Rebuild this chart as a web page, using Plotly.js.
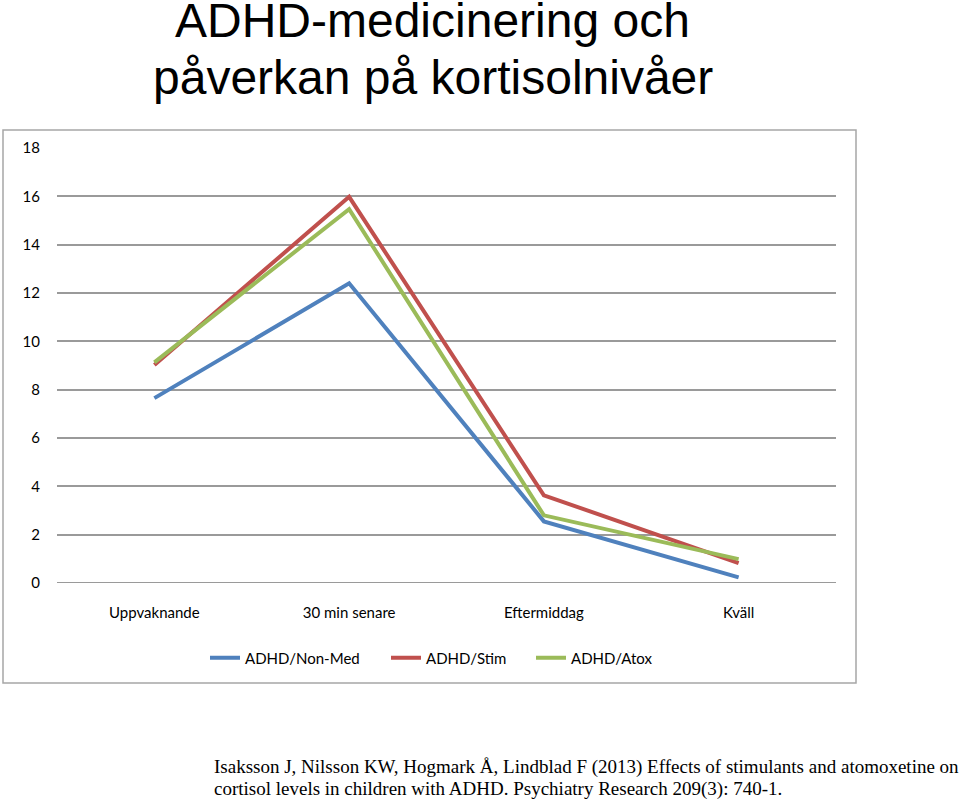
<!DOCTYPE html>
<html>
<head>
<meta charset="utf-8">
<script src="https://cdn.plot.ly/plotly-3.0.1.min.js"></script>
<style>html,body{margin:0;padding:0;background:#fff;}#chart{width:960px;height:800px;}</style>
</head>
<body>
<div id="chart"></div>
<script>
const categories = ["Uppvaknande", "30 min senare", "Eftermiddag", "Kväll"];
const nonMed = [7.65, 12.4, 2.55, 0.23];
const stim = [9.02, 15.98, 3.63, 0.82];
const atox = [9.13, 15.47, 2.8, 0.99];
const seriesNames = ["ADHD/Non-Med", "ADHD/Stim", "ADHD/Atox"];
const yTicks = [0, 2, 4, 6, 8, 10, 12, 14, 16, 18];

const colors = ["#4F81BD", "#C0504D", "#9BBB59"];
const legendIds = ["legend", "legend2", "legend3"];
const seriesData = [nonMed, stim, atox];
const traces = seriesData.map((vals, i) => ({
  type: "scatter",
  mode: "lines",
  x: categories,
  y: vals,
  name: seriesNames[i],
  legend: legendIds[i],
  line: {color: colors[i], width: 4}
}));

const W = 779, H = 435;
const px = x => (x - 57) / W;
const py = y => (583 - y) / H;

const legendFont = {size: 15, family: "Lato, sans-serif", color: "#000"};
const mkLegend = left => ({
  orientation: "h",
  x: px(left), xanchor: "left",
  y: py(658), yanchor: "middle",
  font: legendFont,
  bgcolor: "rgba(0,0,0,0)"
});

const layout = {
  width: 960,
  height: 800,
  margin: {l: 57, r: 124, t: 148, b: 217},
  paper_bgcolor: "#ffffff",
  plot_bgcolor: "#ffffff",
  font: {family: "Lato, 'Open Sans', sans-serif", size: 15, color: "#000"},
  showlegend: true,
  legend: mkLegend(205),
  legend2: mkLegend(386),
  legend3: mkLegend(531),
  xaxis: {
    type: "category",
    range: [-0.5, 3.5],
    showgrid: false,
    showline: false,
    zeroline: false,
    ticks: "",
    ticklabelstandoff: 19,
    tickfont: {size: 15, family: "Lato, sans-serif", color: "#000"}
  },
  yaxis: {
    range: [0, 18],
    tickvals: yTicks,
    ticktext: yTicks.map(String),
    showgrid: true,
    gridcolor: "#9a9a9a",
    gridwidth: 2,
    zeroline: false,
    showline: false,
    ticks: "",
    ticklabelstandoff: 16,
    tickfont: {size: 15, family: "Lato, sans-serif", color: "#000"}
  },
  shapes: [{
    type: "rect", xref: "paper", yref: "paper",
    x0: px(3), x1: px(856), y0: py(683), y1: py(130),
    line: {color: "#a6a6a6", width: 1.5}, fillcolor: "rgba(0,0,0,0)", layer: "below"
  }, {
    type: "line", xref: "paper", yref: "y",
    x0: 0, x1: 1, y0: 0, y1: 0,
    line: {color: "#9a9a9a", width: 2}, layer: "below"
  }],
  annotations: [
    {text: "ADHD-medicinering och", xref: "paper", yref: "paper", x: px(432), y: py(21), xanchor: "center", yanchor: "middle", showarrow: false,
     font: {family: "'Liberation Sans', Arial, sans-serif", size: 48, color: "#000"}},
    {text: "påverkan på kortisolnivåer", xref: "paper", yref: "paper", x: px(433), y: py(77), xanchor: "center", yanchor: "middle", showarrow: false,
     font: {family: "'Liberation Sans', Arial, sans-serif", size: 48, color: "#000"}},
    {text: "Isaksson J, Nilsson KW, Hogmark Å, Lindblad F (2013) Effects of stimulants and atomoxetine on", xref: "paper", yref: "paper", x: px(212), y: py(767), xanchor: "left", yanchor: "middle", showarrow: false,
     font: {family: "'Liberation Serif', 'Times New Roman', serif", size: 19, color: "#000"}},
    {text: "cortisol levels in children with ADHD. Psychiatry Research 209(3): 740-1.", xref: "paper", yref: "paper", x: px(212), y: py(789), xanchor: "left", yanchor: "middle", showarrow: false,
     font: {family: "'Liberation Serif', 'Times New Roman', serif", size: 19, color: "#000"}}
  ]
};

Plotly.newPlot("chart", traces, layout, {displayModeBar: false, staticPlot: true});
</script>
</body>
</html>
